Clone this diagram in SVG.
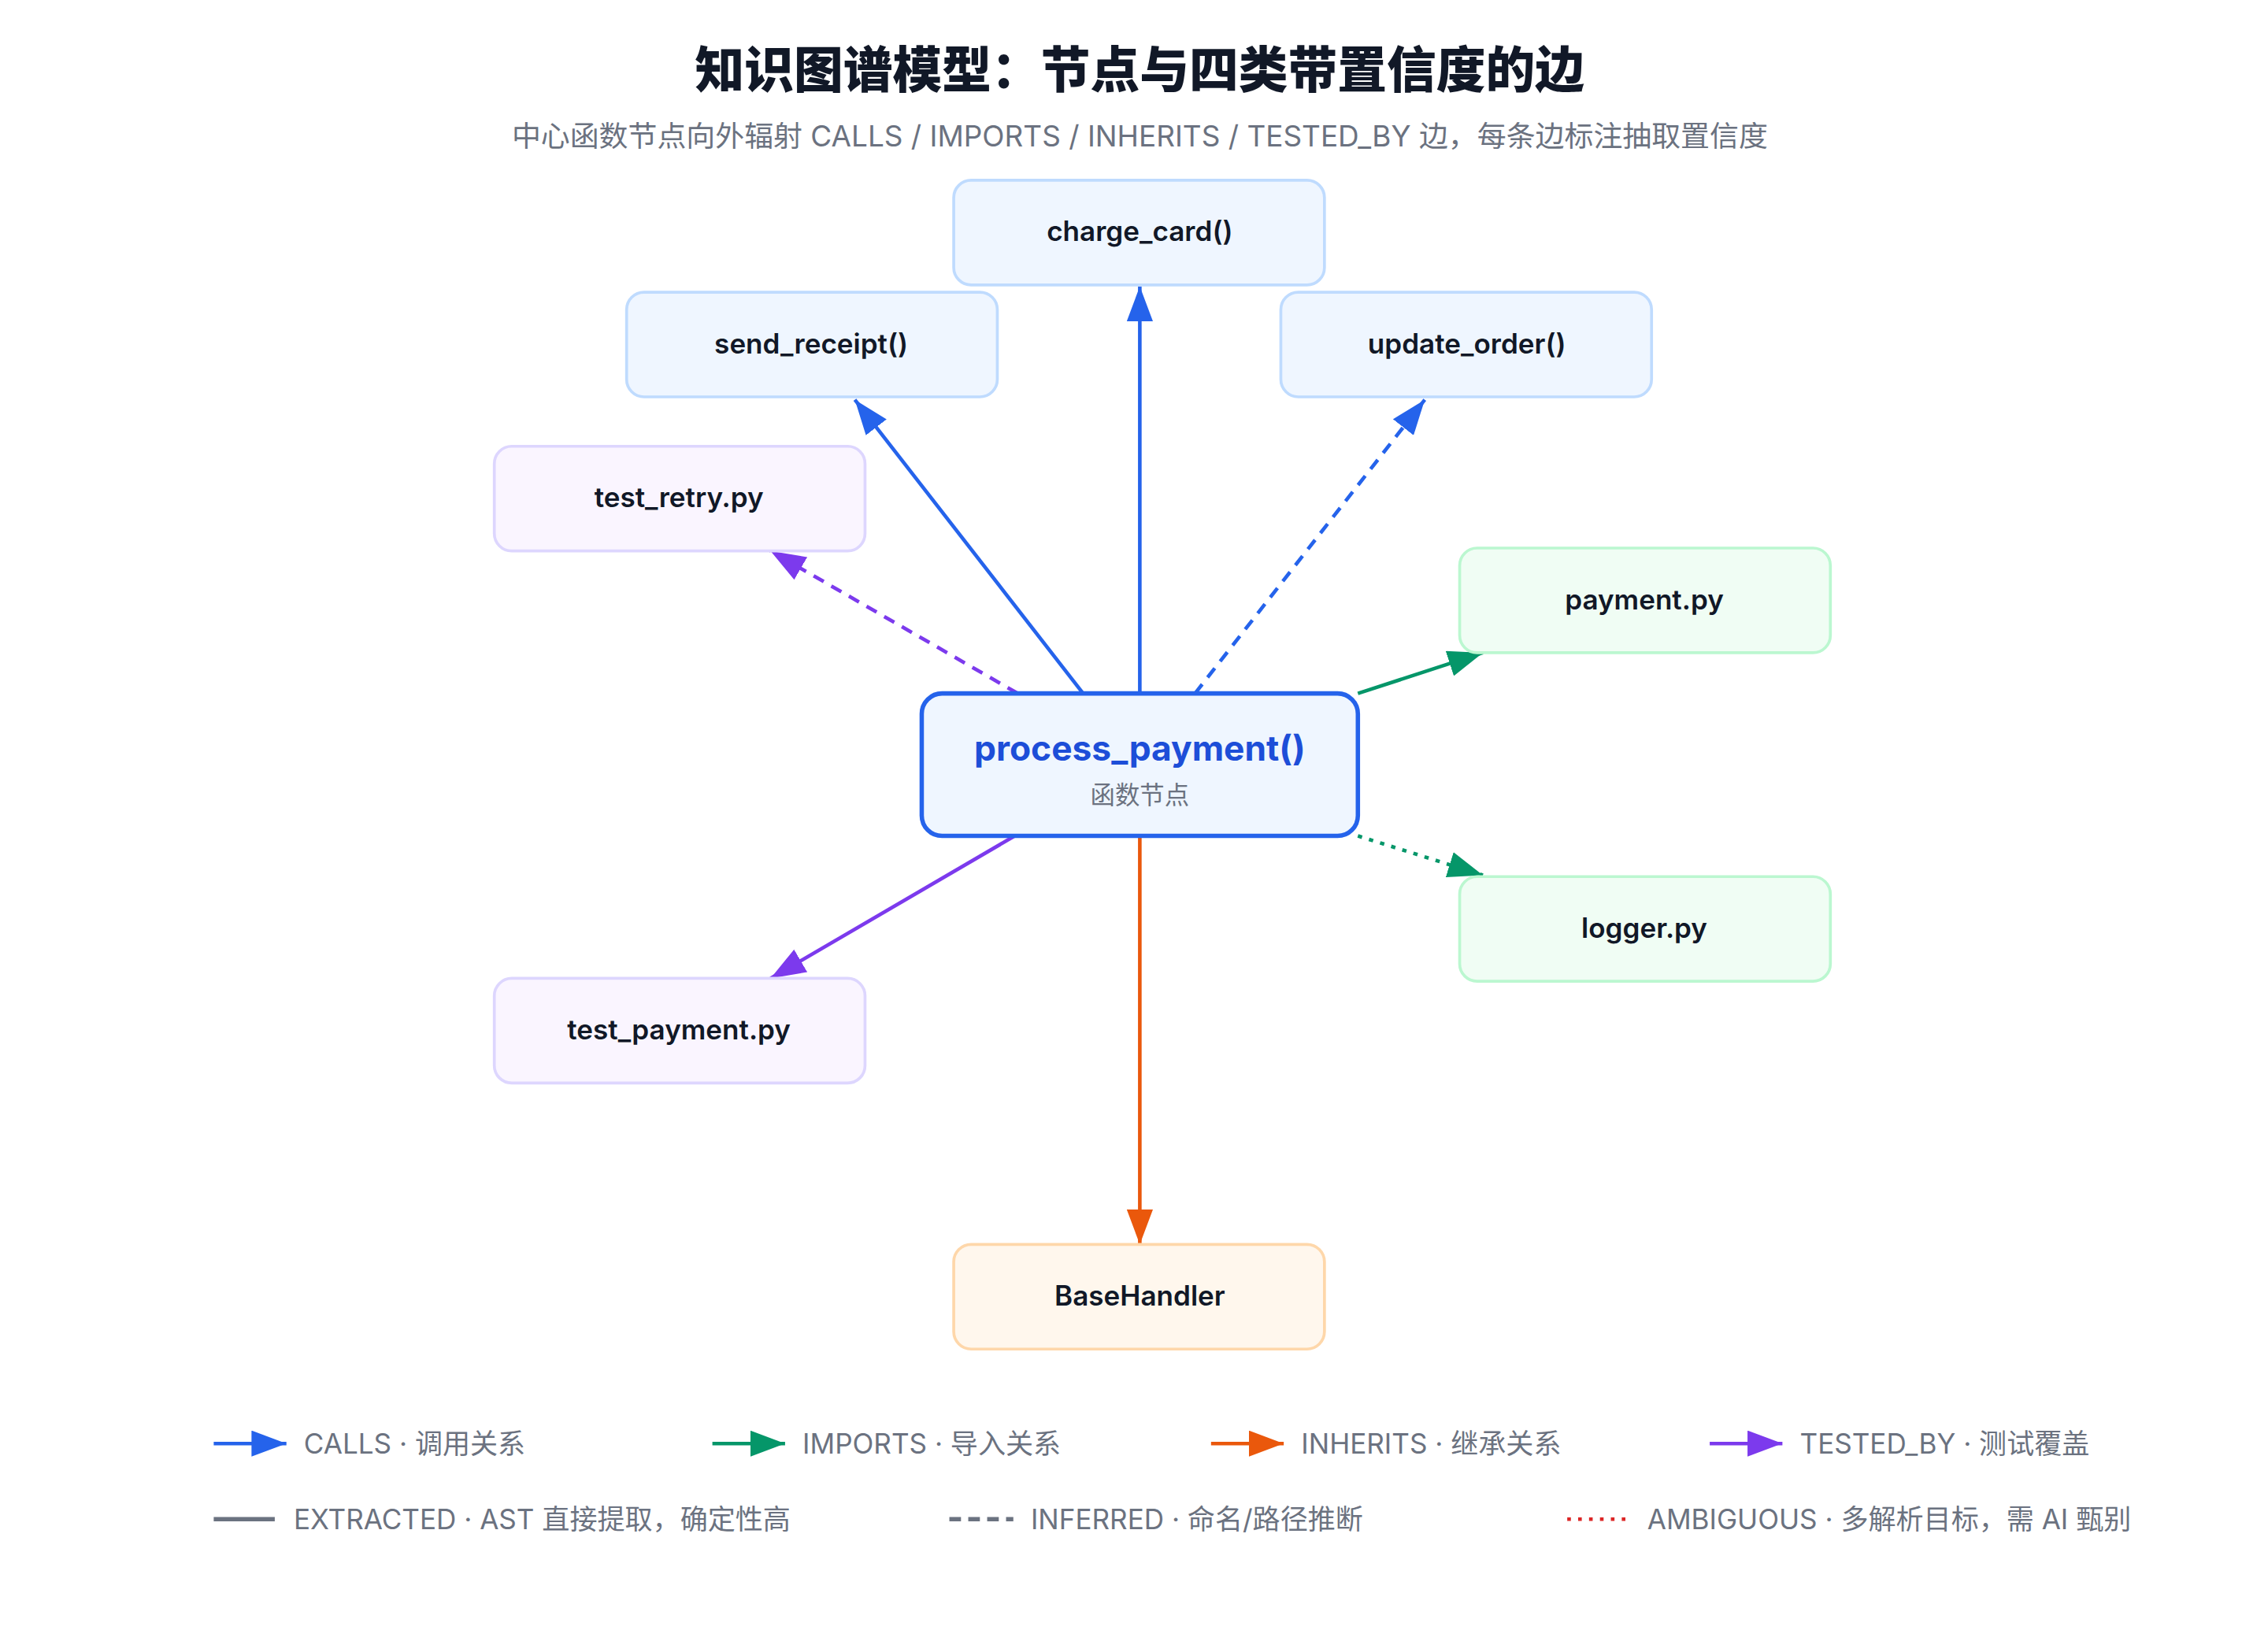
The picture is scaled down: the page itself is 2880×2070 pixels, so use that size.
<svg xmlns="http://www.w3.org/2000/svg" width="2880" height="2070" viewBox="0 0 2880 2070">
<style>
text{font-family:Inter,"Noto Sans CJK SC",sans-serif}
.t{font-size:34px;font-weight:800;fill:#111827;text-anchor:middle}
.s{font-size:20px;fill:#6b7280;text-anchor:middle}
.n{font-size:19px;font-weight:600;fill:#111827;text-anchor:middle}
.l{font-size:19px;fill:#6b7280}
.fn rect{fill:#eff6ff;stroke:#bfdbfe;stroke-width:2}
.ts rect{fill:#faf5ff;stroke:#ddd6fe;stroke-width:2}
.im rect{fill:#f0fdf4;stroke:#bbf7d0;stroke-width:2}
.ih rect{fill:#fff7ed;stroke:#fed7aa;stroke-width:2}
.e{fill:none;stroke-width:2.5}
.b{stroke:#2563eb}.g{stroke:#059669}.o{stroke:#ea580c}.p{stroke:#7c3aed}
.d{stroke-dasharray:8 6}.dt{stroke-dasharray:3 5}
</style>
<defs>
<marker id="ab" markerUnits="userSpaceOnUse" markerWidth="24" markerHeight="18" refX="24" refY="9" orient="auto"><path d="M0,0L24,9L0,18z" fill="#2563eb"/></marker>
<marker id="ag" markerUnits="userSpaceOnUse" markerWidth="24" markerHeight="18" refX="24" refY="9" orient="auto"><path d="M0,0L24,9L0,18z" fill="#059669"/></marker>
<marker id="ao" markerUnits="userSpaceOnUse" markerWidth="24" markerHeight="18" refX="24" refY="9" orient="auto"><path d="M0,0L24,9L0,18z" fill="#ea580c"/></marker>
<marker id="ap" markerUnits="userSpaceOnUse" markerWidth="24" markerHeight="18" refX="24" refY="9" orient="auto"><path d="M0,0L24,9L0,18z" fill="#7c3aed"/></marker>
</defs>
<rect width="2880" height="2070" fill="#fff"/>
<g transform="scale(1.84615)">
<text class="t" x="784" y="60">知识图谱模型：节点与四类带置信度的边</text>
<text class="s" x="784" y="101">中心函数节点向外辐射 CALLS / IMPORTS / INHERITS / TESTED_BY 边，每条边标注抽取置信度</text>
<g id="connectors">
<line class="e b" x1="784" y1="477" x2="784" y2="197" marker-end="url(#ab)"/>
<line class="e b" x1="745" y1="477" x2="588" y2="275" marker-end="url(#ab)"/>
<line class="e b d" x1="822" y1="477" x2="980" y2="275" marker-end="url(#ab)"/>
<line class="e p d" x1="700" y1="477" x2="530" y2="379" marker-end="url(#ap)"/>
<line class="e g" x1="934" y1="477" x2="1020" y2="449" marker-end="url(#ag)"/>
<line class="e g dt" x1="934" y1="575" x2="1020" y2="602" marker-end="url(#ag)"/>
<line class="e p" x1="698" y1="575" x2="530" y2="673" marker-end="url(#ap)"/>
<line class="e o" x1="784" y1="575" x2="784" y2="856" marker-end="url(#ao)"/>
</g>
<g id="charge_card" class="fn"><rect x="656" y="124" width="255" height="72" rx="12"/><text class="n" x="784" y="166">charge_card()</text></g>
<g id="send_receipt" class="fn"><rect x="431" y="201" width="255" height="72" rx="12"/><text class="n" x="558" y="243">send_receipt()</text></g>
<g id="update_order" class="fn"><rect x="881" y="201" width="255" height="72" rx="12"/><text class="n" x="1009" y="243">update_order()</text></g>
<g id="test_retry" class="ts"><rect x="340" y="307" width="255" height="72" rx="12"/><text class="n" x="467" y="349">test_retry.py</text></g>
<g id="payment" class="im"><rect x="1004" y="377" width="255" height="72" rx="12"/><text class="n" x="1131" y="419">payment.py</text></g>
<g id="process_payment"><rect x="634" y="477" width="300" height="98" rx="14" fill="#eff6ff" stroke="#2563eb" stroke-width="3"/><text x="784" y="523" text-anchor="middle" font-size="24" font-weight="700" fill="#1d4ed8">process_payment()</text><text x="784" y="553" text-anchor="middle" font-size="17" fill="#6b7280">函数节点</text></g>
<g id="logger" class="im"><rect x="1004" y="603" width="255" height="72" rx="12"/><text class="n" x="1131" y="645">logger.py</text></g>
<g id="test_payment" class="ts"><rect x="340" y="673" width="255" height="72" rx="12"/><text class="n" x="467" y="715">test_payment.py</text></g>
<g id="BaseHandler" class="ih"><rect x="656" y="856" width="255" height="72" rx="12"/><text class="n" x="784" y="898">BaseHandler</text></g>
<g id="legend">
<line class="e b" x1="147" y1="993" x2="197" y2="993" stroke-width="3" marker-end="url(#ab)"/><text class="l" x="209" y="1000">CALLS · 调用关系</text>
<line class="e g" x1="490" y1="993" x2="540" y2="993" stroke-width="3" marker-end="url(#ag)"/><text class="l" x="552" y="1000">IMPORTS · 导入关系</text>
<line class="e o" x1="833" y1="993" x2="883" y2="993" stroke-width="3" marker-end="url(#ao)"/><text class="l" x="895" y="1000">INHERITS · 继承关系</text>
<line class="e p" x1="1176" y1="993" x2="1226" y2="993" stroke-width="3" marker-end="url(#ap)"/><text class="l" x="1238" y="1000">TESTED_BY · 测试覆盖</text>
<line x1="147" y1="1045" x2="189" y2="1045" stroke="#6b7280" stroke-width="3"/><text class="l" x="202" y="1052">EXTRACTED · AST 直接提取，确定性高</text>
<line x1="653" y1="1045" x2="697" y2="1045" stroke="#6b7280" stroke-width="3" stroke-dasharray="8 5"/><text class="l" x="709" y="1052">INFERRED · 命名/路径推断</text>
<line x1="1078" y1="1045" x2="1122" y2="1045" stroke="#dc2626" stroke-width="2.5" stroke-dasharray="2.5 5"/><text class="l" x="1133" y="1052">AMBIGUOUS · 多解析目标，需 AI 甄别</text>
</g>
</g>
</svg>
